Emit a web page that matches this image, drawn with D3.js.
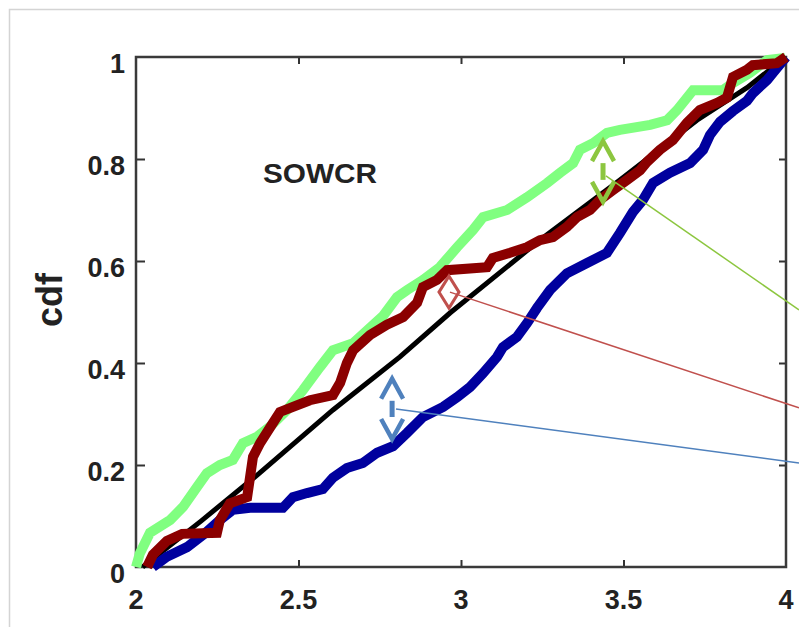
<!DOCTYPE html>
<html>
<head>
<meta charset="utf-8">
<script src="https://cdn.jsdelivr.net/npm/d3@7"></script>
<style>
html,body{margin:0;padding:0;background:#fff;}
svg{display:block;}
text{font-family:"Liberation Sans",Arial,Helvetica,sans-serif;font-weight:bold;fill:#222;}
</style>
</head>
<body>
<svg id="chart" width="799" height="627"></svg>
<script>
// ---- data ----
const xTicks = [2, 2.5, 3, 3.5, 4];
const xTickLabels = ["2", "2.5", "3", "3.5", "4"];
const yTicks = [0, 0.2, 0.4, 0.6, 0.8, 1];
const yTickLabels = ["0", "0.2", "0.4", "0.6", "0.8", "1"];
const yLabel = "cdf";
const panelTitle = "SOWCR";

// theoretical cdf (black)
const refCdf = [[2.02,0],[2.2,0.09],[2.38,0.184],[2.606,0.308],[2.812,0.412],[2.966,0.498],
  [3.243,0.641],[3.489,0.759],[3.726,0.876],[3.88,0.94],[4,1]];

// light green series
const greenCdf = [[2.0,0],[2.012,0.027],[2.043,0.067],[2.105,0.092],[2.145,0.118],[2.188,0.157],
  [2.218,0.184],[2.258,0.2],[2.298,0.21],[2.329,0.243],[2.372,0.255],[2.412,0.275],[2.465,0.308],
  [2.514,0.347],[2.566,0.392],[2.606,0.425],[2.668,0.439],[2.76,0.492],[2.803,0.529],[2.834,0.543],
  [2.883,0.563],[2.935,0.588],[2.988,0.627],[3.037,0.661],[3.068,0.686],[3.142,0.7],[3.203,0.725],
  [3.265,0.753],[3.305,0.773],[3.345,0.792],[3.366,0.818],[3.406,0.831],[3.449,0.851],[3.489,0.857],
  [3.582,0.867],[3.634,0.876],[3.665,0.896],[3.714,0.935],[3.806,0.935],[3.837,0.949],[3.889,0.969],
  [3.942,0.994],[3.997,0.998]];

// dark red series
const redCdf = [[2.034,0],[2.052,0.024],[2.095,0.051],[2.142,0.065],[2.249,0.067],[2.258,0.092],
  [2.289,0.125],[2.342,0.137],[2.36,0.216],[2.382,0.243],[2.412,0.273],[2.443,0.304],[2.483,0.314],
  [2.535,0.327],[2.606,0.337],[2.628,0.361],[2.649,0.4],[2.668,0.425],[2.72,0.455],[2.772,0.475],
  [2.822,0.49],[2.865,0.518],[2.883,0.549],[2.926,0.563],[2.957,0.582],[3.08,0.588],[3.098,0.606],
  [3.151,0.616],[3.203,0.627],[3.243,0.641],[3.283,0.647],[3.326,0.667],[3.357,0.686],[3.397,0.7],
  [3.428,0.72],[3.468,0.739],[3.511,0.759],[3.551,0.778],[3.572,0.794],[3.612,0.818],[3.652,0.837],
  [3.695,0.871],[3.735,0.896],[3.788,0.91],[3.818,0.92],[3.837,0.961],[3.88,0.975],[3.898,0.984],
  [3.972,0.988],[4.0,1.0]];

// dark blue series
const blueCdf = [[2.052,0],[2.095,0.02],[2.157,0.039],[2.218,0.069],[2.258,0.092],[2.298,0.112],
  [2.351,0.116],[2.452,0.116],[2.483,0.137],[2.526,0.145],[2.575,0.153],[2.606,0.175],[2.649,0.194],
  [2.698,0.204],[2.742,0.224],[2.791,0.237],[2.834,0.263],[2.883,0.294],[2.945,0.314],[2.988,0.333],
  [3.028,0.353],[3.068,0.38],[3.111,0.412],[3.129,0.431],[3.172,0.451],[3.203,0.478],[3.234,0.508],
  [3.274,0.543],[3.326,0.576],[3.388,0.596],[3.449,0.616],[3.489,0.655],[3.529,0.696],[3.56,0.72],
  [3.591,0.753],[3.643,0.773],[3.705,0.792],[3.745,0.818],[3.766,0.847],[3.797,0.873],[3.837,0.894],
  [3.88,0.914],[3.898,0.929],[3.942,0.955],[3.96,0.969],[4.0,1.0]];

// annotation marks: [x, yTop, yBottom] for arrows, [x, y] for diamond, leader lines [x0,y0,x1,y1]
const greenArrow = [3.437, 0.837, 0.714];
const blueArrow = [2.788, 0.371, 0.249];
const redDiamond = [2.963, 0.539];
const greenLeader = [3.446, 0.767, 4.04, 0.504];
const redLeader = [2.966, 0.539, 4.04, 0.312];
const blueLeader = [2.8, 0.31, 4.04, 0.204];

// ---- drawing ----
const svg = d3.select("#chart");
const L = 136, R = 786, T = 57, B = 567;
const x = d3.scaleLinear().domain([2, 4]).range([L, R]);
const y = d3.scaleLinear().domain([0, 1]).range([B, T]);

// outer light frame
svg.append("rect").attr("x", 9.5).attr("y", 9.5).attr("width", 820).attr("height", 640)
  .attr("fill", "none").attr("stroke", "#d4d4d4").attr("stroke-width", 1.5);

// axes with inward ticks on all sides
const inner = d3.range(1, yTicks.length - 1).map(i => yTicks[i]);
const innerX = xTicks.slice(1, -1);
svg.append("g").attr("transform", `translate(${L},0)`)
  .call(d3.axisRight(y).tickValues(inner).tickSize(9).tickFormat(""))
  .call(g => g.select(".domain").remove());
svg.append("g").attr("transform", `translate(${R},0)`)
  .call(d3.axisLeft(y).tickValues(inner).tickSize(7).tickFormat(""))
  .call(g => g.select(".domain").remove());
svg.append("g").attr("transform", `translate(0,${B})`)
  .call(d3.axisTop(x).tickValues(innerX).tickSize(7).tickFormat(""))
  .call(g => g.select(".domain").remove());
svg.append("g").attr("transform", `translate(0,${T})`)
  .call(d3.axisBottom(x).tickValues(innerX).tickSize(7).tickFormat(""))
  .call(g => g.select(".domain").remove());
svg.selectAll(".tick line").attr("stroke", "#333").attr("stroke-width", 2);

svg.append("rect").attr("x", L).attr("y", T).attr("width", R - L).attr("height", B - T)
  .attr("fill", "none").attr("stroke", "#3a3a3a").attr("stroke-width", 2.5);

// tick labels
svg.append("g").selectAll("text").data(yTicks).join("text")
  .attr("x", 125).attr("y", d => y(d) + 7).attr("dy", "0.35em")
  .attr("text-anchor", "end").style("font-size", "27px")
  .text((d, i) => yTickLabels[i]);
svg.append("g").selectAll("text").data(xTicks).join("text")
  .attr("x", d => x(d)).attr("y", 600).attr("dy", "0.35em")
  .attr("text-anchor", "middle").style("font-size", "27px")
  .text((d, i) => xTickLabels[i]);

// y label
svg.append("text").attr("transform", "translate(62,300) rotate(-90)")
  .attr("text-anchor", "middle").style("font-size", "36px").text(yLabel);

// panel title
svg.append("text").attr("x", 320).attr("y", 183).attr("text-anchor", "middle")
  .style("font-size", "28px").attr("textLength", 114).attr("lengthAdjust", "spacingAndGlyphs")
  .text(panelTitle);

// series
const line = d3.line().x(d => x(d[0])).y(d => y(d[1]));
const plot = svg.append("g");
plot.append("path").attr("d", line(refCdf)).attr("fill", "none")
  .attr("stroke", "#000").attr("stroke-width", 5);
plot.append("path").attr("d", line(greenCdf)).attr("fill", "none")
  .attr("stroke", "#80ff80").attr("stroke-width", 10).attr("stroke-linejoin", "miter");
plot.append("path").attr("d", line(blueCdf)).attr("fill", "none")
  .attr("stroke", "#00009e").attr("stroke-width", 10).attr("stroke-linejoin", "miter");
plot.append("path").attr("d", line(redCdf)).attr("fill", "none")
  .attr("stroke", "#8b0000").attr("stroke-width", 10).attr("stroke-linejoin", "miter");

// annotations
function leader(a, color) {
  svg.append("line").attr("x1", x(a[0])).attr("y1", y(a[1])).attr("x2", x(a[2])).attr("y2", y(a[3]))
    .attr("stroke", color).attr("stroke-width", 1.5);
}
leader(greenLeader, "#8cc63f");
leader(redLeader, "#c0504d");
leader(blueLeader, "#4f81bd");

function dblArrow(a, color) {
  const cx = x(a[0]), top = y(a[1]), bot = y(a[2]);
  const g = svg.append("g").attr("fill", "none").attr("stroke", color).attr("stroke-width", 4.5);
  g.append("path").attr("d", `M${cx - 11},${top + 21}L${cx},${top + 1}L${cx + 11},${top + 21}`);
  g.append("path").attr("d", `M${cx - 11},${bot - 21}L${cx},${bot - 1}L${cx + 11},${bot - 21}`);
  g.append("line").attr("x1", cx).attr("x2", cx).attr("y1", top + 23).attr("y2", bot - 23)
    .attr("stroke-width", 5);
}
dblArrow(greenArrow, "#8cc63f");
dblArrow(blueArrow, "#4f81bd");

const dc = [x(redDiamond[0]), y(redDiamond[1])];
svg.append("path").attr("d", `M${dc[0]},${dc[1] - 16}L${dc[0] + 10},${dc[1]}L${dc[0]},${dc[1] + 16}L${dc[0] - 10},${dc[1]}Z`)
  .attr("fill", "none").attr("stroke", "#c0504d").attr("stroke-width", 3);
</script>
</body>
</html>
